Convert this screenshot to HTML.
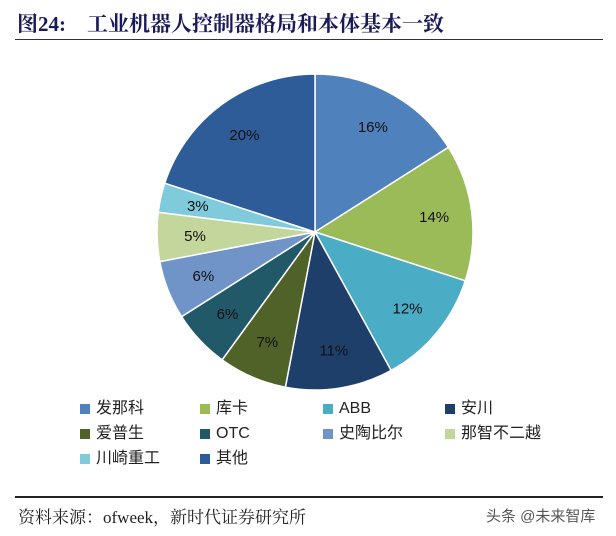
<!DOCTYPE html>
<html><head><meta charset="utf-8"><style>
body{margin:0;background:#fff;width:616px;height:536px;overflow:hidden;position:relative;font-family:"Liberation Sans","Noto Sans CJK SC",sans-serif}
.t{position:absolute;white-space:nowrap}
.lg{position:absolute;font-size:16px;line-height:18px;height:18px;color:#222;display:flex;align-items:center;font-family:"Liberation Sans","Noto Sans CJK SC",sans-serif}
.lg i{display:inline-block;width:10px;height:10px;margin-right:6px}
</style></head><body>
<div class="t" style="left:17px;top:8px;font-size:21px;font-weight:bold;color:#1a1a5a;font-family:'Liberation Serif','Noto Serif CJK SC',serif">图24:&nbsp;&nbsp;&nbsp;&nbsp;工业机器人控制器格局和本体基本一致</div>
<div style="position:absolute;left:15px;top:39px;width:588px;height:1px;background:#333"></div>
<svg id="pie" width="616" height="536" style="position:absolute;left:0;top:0"></svg>
<div id="legend"></div>
<div style="position:absolute;left:15px;top:496px;width:588px;height:2px;background:#222"></div>
<div class="t" style="left:18px;top:503px;font-size:17px;color:#222;font-family:'Liberation Serif','Noto Serif CJK SC',serif">资料来源：ofweek，新时代证券研究所</div>
<div class="t" style="left:486px;top:505px;font-size:15px;color:#555">头条 @未来智库</div>
<script>
const categories=["发那科","库卡","ABB","安川","爱普生","OTC","史陶比尔","那智不二越","川崎重工","其他"];
const values=[16,14,12,11,7,6,6,5,3,20];
const colors=["#4f81bd","#9bbb59","#4bacc6","#1f3f6b","#4f6228","#215968","#7094c8","#c3d69b","#7fcbdc","#2e5c98"];
const cx=315,cy=232,r=158;
const svg=document.getElementById('pie');
const NS="http://www.w3.org/2000/svg";
const total=values.reduce((a,b)=>a+b,0);
let acc=0;
values.forEach((v,i)=>{
  const a0=acc/total*2*Math.PI, a1=(acc+v)/total*2*Math.PI; acc+=v;
  const p=(a)=>[cx+r*Math.sin(a),cy-r*Math.cos(a)];
  const [x0,y0]=p(a0),[x1,y1]=p(a1);
  const path=document.createElementNS(NS,'path');
  path.setAttribute('d',`M${cx},${cy}L${x0},${y0}A${r},${r} 0 ${a1-a0>Math.PI?1:0} 1 ${x1},${y1}Z`);
  path.setAttribute('fill',colors[i]);path.setAttribute('stroke','#fff');path.setAttribute('stroke-width','1.5');
  
  
  svg.appendChild(path);
  const am=(a0+a1)/2, lr=r*0.76;
  const t=document.createElementNS(NS,'text');
  t.setAttribute('x',cx+lr*Math.sin(am));t.setAttribute('y',cy-lr*Math.cos(am)+5);
  t.setAttribute('text-anchor','middle');t.setAttribute('font-size','15');t.setAttribute('fill','#111');
  t.setAttribute('font-family','Liberation Sans, sans-serif');
  t.textContent=v+'%';
  
  
  svg.appendChild(t);
});
const lg=document.getElementById('legend');
const colX=[80,200,323,445];
categories.forEach((c,i)=>{
  const d=document.createElement('div');d.className='lg';
  d.style.left=colX[i%4]+'px';d.style.top=(400+Math.floor(i/4)*25)+'px';
  d.innerHTML=`<i style="background:${colors[i]}"></i>${c}`;
  
  
  lg.appendChild(d);
});
</script>
</body></html>
